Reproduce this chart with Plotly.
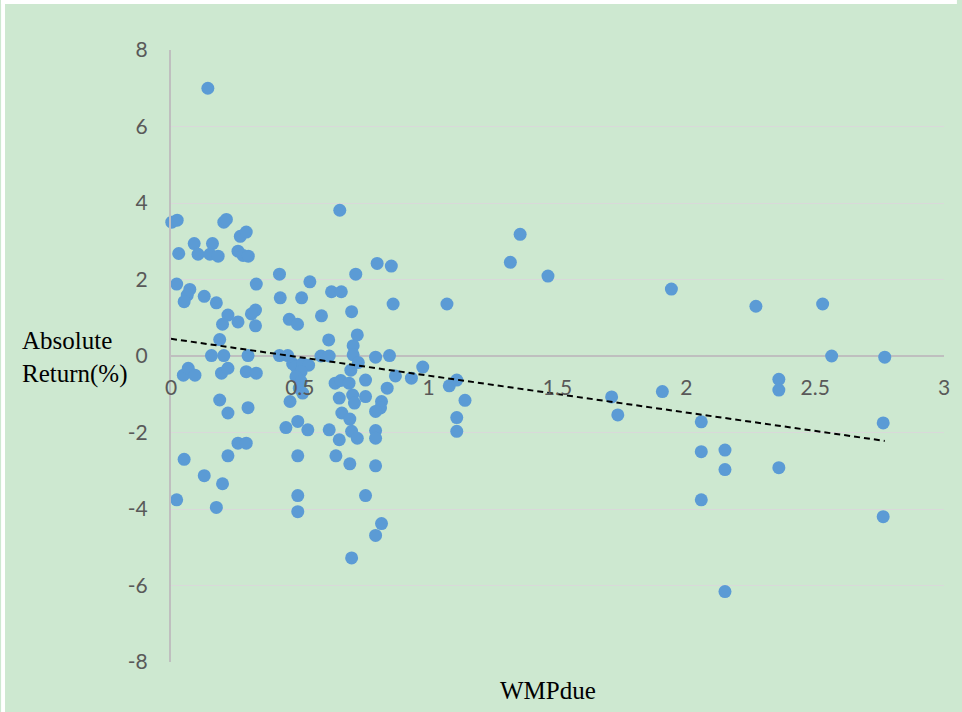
import plotly.graph_objects as go

# ---- data ----
wmp_due = [
    0.003, 0.024, 0.205, 0.215, 0.269, 0.292, 0.090, 0.161, 0.030, 0.105,
    0.151, 0.183, 0.260, 0.280, 0.300, 0.022, 0.421, 0.539, 0.331, 0.073,
    0.063, 0.051, 0.129, 0.176, 0.424, 0.507, 0.623, 0.661, 0.701, 0.328,
    0.312, 0.221, 0.200, 0.260, 0.328, 0.459, 0.491, 0.584, 0.612, 0.189,
    0.157, 0.205, 0.299, 0.421, 0.453, 0.582, 0.614, 0.048, 0.067, 0.093,
    0.196, 0.221, 0.292, 0.331, 0.472, 0.485, 0.511, 0.534, 0.505, 0.485,
    0.505, 0.498, 0.511, 0.723, 0.707, 0.707, 0.727, 0.698, 0.794, 0.848,
    0.755, 0.637, 0.659, 0.691, 0.871, 0.839, 0.933, 0.977, 1.080, 1.109,
    1.141, 0.189, 0.221, 0.299, 0.462, 0.446, 0.492, 0.531, 0.260, 0.292,
    0.221, 0.492, 0.051, 0.129, 0.200, 0.022, 0.176, 0.492, 0.492, 0.614,
    0.653, 0.640, 0.653, 0.705, 0.712, 0.755, 0.817, 0.813, 0.794, 0.663,
    0.694, 0.701, 0.723, 0.794, 0.794, 0.694, 0.794, 0.755, 0.817, 0.794,
    0.701, 1.109, 1.109, 0.655, 0.800, 0.855, 0.717, 0.862, 1.071, 0.143,
    1.355, 1.317, 1.463, 1.942, 2.270, 2.529, 2.564, 2.770, 1.710, 1.734,
    1.907, 2.058, 2.058, 2.058, 2.150, 2.150, 2.150, 2.359, 2.359, 2.359,
    2.764, 2.764,
]
abs_return = [
    3.50, 3.55, 3.50, 3.57, 3.13, 3.24, 2.94, 2.94, 2.68, 2.66,
    2.66, 2.61, 2.74, 2.63, 2.61, 1.88, 2.14, 1.94, 1.88, 1.74,
    1.59, 1.42, 1.56, 1.39, 1.52, 1.52, 1.68, 1.68, 1.16, 1.20,
    1.10, 1.07, 0.83, 0.89, 0.79, 0.96, 0.83, 1.05, 0.42, 0.43,
    0.01, 0.01, 0.01, 0.01, 0.01, 0.00, 0.00, -0.50, -0.32, -0.50,
    -0.45, -0.32, -0.41, -0.45, -0.20, -0.28, -0.20, -0.24, -0.41, -0.54,
    -0.67, -0.84, -0.97, 0.55, 0.27, 0.03, -0.17, -0.37, -0.03, 0.01,
    -0.63, -0.71, -0.64, -0.71, -0.52, -0.84, -0.58, -0.29, -0.78, -0.63,
    -1.16, -1.15, -1.49, -1.35, -1.19, -1.87, -1.71, -1.93, -2.28, -2.28,
    -2.61, -2.61, -2.70, -3.13, -3.34, -3.76, -3.96, -3.65, -4.07, -1.93,
    -2.19, -2.61, -1.10, -1.02, -1.23, -1.06, -1.19, -1.36, -1.45, -1.49,
    -1.65, -1.97, -2.15, -1.95, -2.15, -2.82, -2.87, -3.65, -4.38, -4.69,
    -5.28, -1.61, -1.97, 3.81, 2.42, 2.35, 2.14, 1.36, 1.36, 7.00,
    3.18, 2.45, 2.09, 1.75, 1.30, 1.36, 0.00, -0.03, -1.07, -1.54,
    -0.93, -1.72, -2.50, -3.76, -2.46, -2.97, -6.16, -0.61, -0.89, -2.92,
    -1.75, -4.20,
]
# linear trendline end points (as drawn in the reference)
trend_x = [0.0, 2.77]
trend_y = [0.45, -2.22]

x_ticks = [0, 0.5, 1, 1.5, 2, 2.5, 3]
x_tick_text = ["0", "0.5", "1", "1.5", "2", "2.5", "3"]
y_ticks = [-8, -6, -4, -2, 0, 2, 4, 6, 8]
y_tick_text = ["-8", "-6", "-4", "-2", "0", "2", "4", "6", "8"]

x_title = "WMPdue"
y_title = "Absolute<br>Return(%)"

BG = "#CDE8D0"
TICK_FONT = dict(family="Lato, Open Sans, sans-serif", size=21, color="#595959")
TITLE_FONT = dict(family="Liberation Serif, Times New Roman, serif", size=25, color="#000000")

fig = go.Figure()
fig.add_trace(go.Scatter(
    x=wmp_due, y=abs_return, mode="markers",
    marker=dict(size=13, color="#5B9BD5", line=dict(width=0)),
    cliponaxis=False, showlegend=False, hoverinfo="x+y",
))
fig.add_trace(go.Scatter(
    x=trend_x, y=trend_y, mode="lines",
    line=dict(color="#000000", width=2, dash="6px,4px"),
    showlegend=False, hoverinfo="skip",
))

fig.update_layout(
    width=962, height=712,
    margin=dict(l=171, r=13, t=50, b=50),
    paper_bgcolor=BG, plot_bgcolor=BG,
    xaxis=dict(
        range=[0, 3], tickvals=x_ticks, ticktext=x_tick_text,
        showgrid=False, zeroline=False, showline=False,
        anchor="free", position=0.5,
        ticks="", ticklabelstandoff=17,
        tickfont=TICK_FONT,
    ),
    yaxis=dict(
        range=[-8, 8], tickvals=y_ticks, ticktext=y_tick_text,
        showgrid=True, gridcolor="#D9D9D9", gridwidth=1.2,
        zeroline=True, zerolinecolor="#BFBFBF", zerolinewidth=2,
        showline=True, linecolor="#BFBFBF", linewidth=2,
        ticks="", ticklabelstandoff=17,
        tickfont=TICK_FONT,
    ),
    annotations=[
        dict(text=y_title, xref="paper", yref="paper", x=-0.195, y=0.498,
             xanchor="left", yanchor="middle", align="left", showarrow=False,
             font=TITLE_FONT),
        dict(text=x_title, xref="paper", yref="paper", x=0.488, y=-0.046,
             xanchor="center", yanchor="middle", showarrow=False,
             font=TITLE_FONT),
    ],
    shapes=[
        dict(type="rect", xref="paper", yref="paper", x0=-0.2198, x1=-0.2147,
             y0=-0.0817, y1=1.0817, fillcolor="white", line=dict(width=0), layer="above"),
        dict(type="rect", xref="paper", yref="paper", x0=-0.2198, x1=1.0167,
             y0=1.0752, y1=1.0817, fillcolor="white", line=dict(width=0), layer="above"),
    ],
)

fig.write_html("out.html")
